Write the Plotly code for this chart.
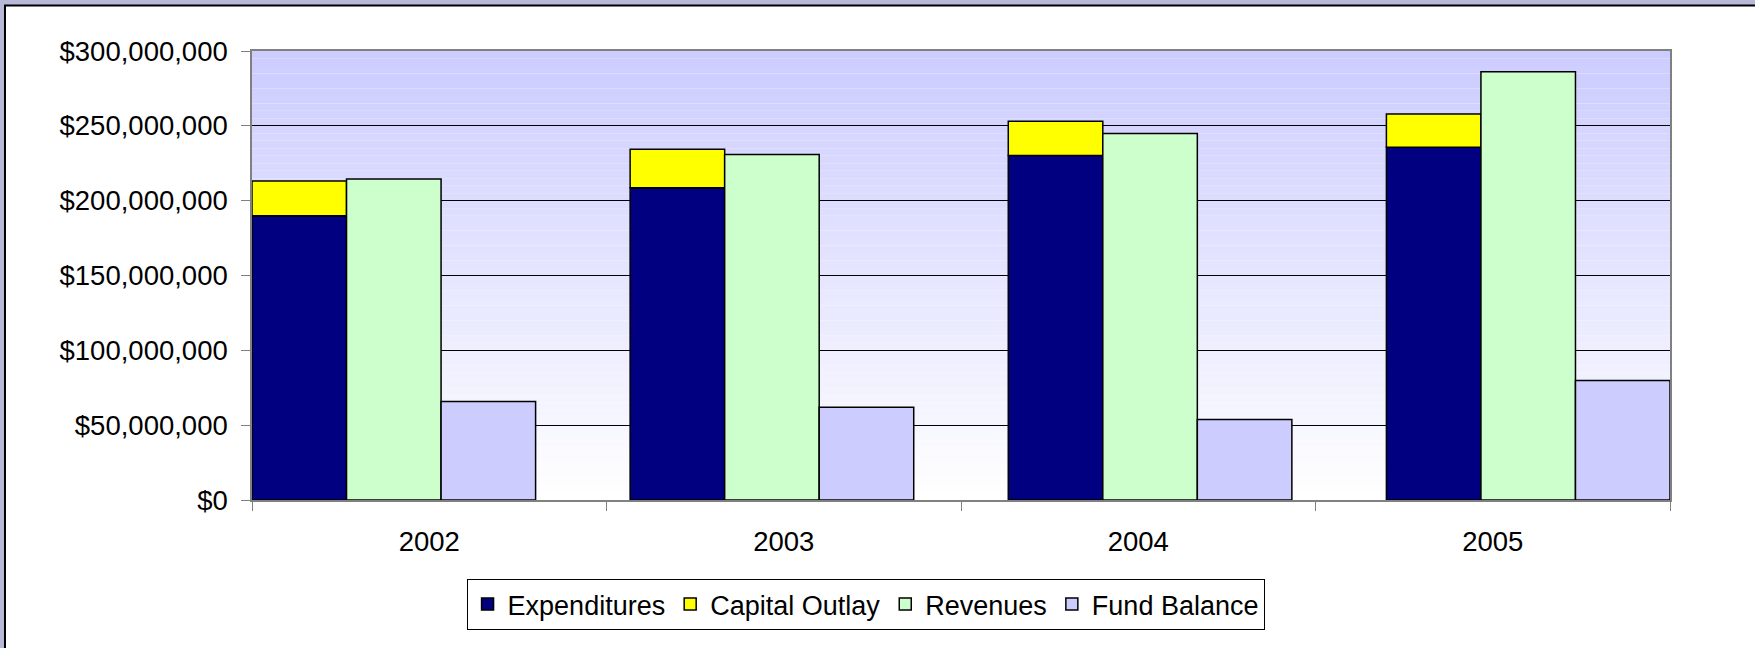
import plotly.graph_objects as go

# ---- data ----
years = ["2002", "2003", "2004", "2005"]
expenditures = [190.0e6, 208.7e6, 230.1e6, 235.7e6]
capital_outlay = [23.2e6, 25.7e6, 22.9e6, 22.2e6]
revenues = [214.5e6, 230.9e6, 244.8e6, 286.2e6]
fund_balance = [65.8e6, 61.9e6, 53.8e6, 79.8e6]

series_names = ["Expenditures", "Capital Outlay", "Revenues", "Fund Balance"]
colors = ["#000080", "#FFFF00", "#CCFFCC", "#CCCCFF"]

# ---- layout geometry (Excel-style clustered layout: 15 equal slots across the axis) ----
n = len(years)
slots = 4 * n - 1
w = n / slots  # bar width in category units
def offs(k):
    # left edge of slot k in group i, relative to category centre i
    return [(4 * i + k) * w - (i + 0.5) for i in range(n)]

font_family = "Liberation Sans, Arial, sans-serif"
line = dict(color="black", width=1.5)

fig = go.Figure()
fig.add_trace(go.Bar(name=series_names[0], x=years, y=expenditures, width=w, offset=offs(0),
                     marker=dict(color=colors[0], line=line)))
fig.add_trace(go.Bar(name=series_names[1], x=years, y=capital_outlay, base=expenditures, width=w,
                     offset=offs(0), marker=dict(color=colors[1], line=line)))
fig.add_trace(go.Bar(name=series_names[2], x=years, y=revenues, width=w, offset=offs(1),
                     marker=dict(color=colors[2], line=line)))
fig.add_trace(go.Bar(name=series_names[3], x=years, y=fund_balance, width=w, offset=offs(2),
                     marker=dict(color=colors[3], line=line)))

# ---- background: white chart frame and vertical gradient plot area ----
shapes = [dict(type="rect", xref="paper", yref="paper", x0=-0.1742, x1=1.2, y0=-0.5, y1=1.1015,
               fillcolor="white", line=dict(color="black", width=2), layer="below")]
bands = 60
top = (204, 204, 255)
bot = (255, 255, 255)
for b in range(bands):
    t = b / (bands - 1)
    c = tuple(round(top[j] + (bot[j] - top[j]) * t) for j in range(3))
    shapes.append(dict(type="rect", xref="paper", yref="paper", x0=0, x1=1,
                       y0=1 - (b + 1) / bands, y1=1 - b / bands,
                       fillcolor="rgb(%d,%d,%d)" % c, line=dict(width=0), layer="below"))

fig.update_layout(
    width=1755, height=648,
    margin=dict(l=252, r=85, t=51, b=148),
    paper_bgcolor="#B8B8D8",
    plot_bgcolor="rgba(0,0,0,0)",
    barmode="overlay",
    shapes=shapes,
    font=dict(family=font_family, color="black"),
    showlegend=True,
    legend=dict(orientation="h", x=0.4327, xanchor="center", y=-0.176, yanchor="top",
                bordercolor="black", borderwidth=1, bgcolor="white",
                font=dict(size=27, family=font_family), traceorder="normal"),
    xaxis=dict(type="category", tickson="boundaries", ticks="outside", ticklen=9,
               tickcolor="#808080", showline=True, linecolor="#808080", linewidth=1.5,
               mirror=True, showgrid=False, tickfont=dict(size=27.5), range=[-0.5, n - 0.5],
               ticklabelstandoff=16),
    yaxis=dict(range=[0, 300e6], dtick=50e6, tickformat="$,.0f", ticks="outside", ticklen=9,
               tickcolor="#808080", showline=True, linecolor="#808080", linewidth=1.5, mirror=True,
               showgrid=True, gridcolor="black", gridwidth=1, zeroline=False,
               tickfont=dict(size=27.5), ticklabelstandoff=8),
)

fig.write_html("out.html", config={"displayModeBar": False},
               post_script="document.body.style.margin='0';document.body.style.background='#B8B8D8';")
